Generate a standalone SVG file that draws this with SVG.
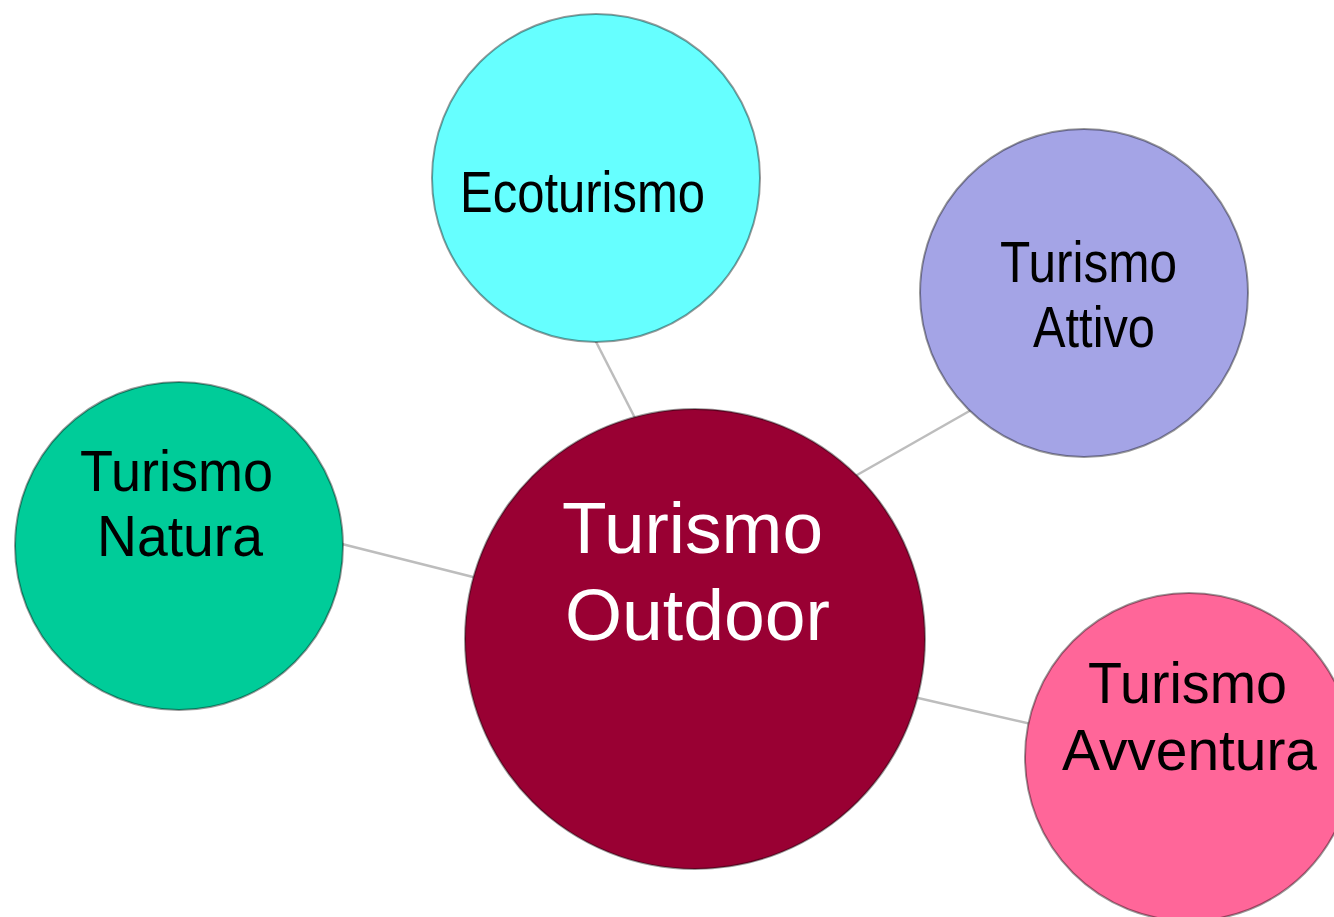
<svg xmlns="http://www.w3.org/2000/svg" width="1334" height="917" viewBox="0 0 1334 917">
<style>
.edge{stroke:#bdbdbd;stroke-width:2.5;fill:none}
.node{stroke:#000;stroke-opacity:0.4;stroke-width:2}
.lbl{font-family:"Liberation Sans",Arial,sans-serif;font-size:57px;fill:#000}
.main{font-family:"Liberation Sans",Arial,sans-serif;font-size:72px;fill:#fff}
</style>
<rect width="1334" height="917" fill="#fff"/>
<g id="connectors">
<line class="edge" x1="590" y1="330" x2="636" y2="420"/>
<line class="edge" x1="850" y1="479" x2="980" y2="405"/>
<line class="edge" x1="330" y1="541" x2="485" y2="580"/>
<line class="edge" x1="905" y1="695" x2="1040" y2="726"/>
</g>
<g id="ecoturismo">
<circle class="node" cx="596" cy="178" r="164" fill="#66ffff"/>
<text class="lbl" x="460" y="212" textLength="245" lengthAdjust="spacingAndGlyphs">Ecoturismo</text>
</g>
<g id="turismo-attivo">
<circle class="node" cx="1084" cy="293" r="164" fill="#a4a4e6"/>
<text class="lbl" x="1000" y="282" textLength="177" lengthAdjust="spacingAndGlyphs">Turismo</text>
<text class="lbl" x="1033" y="347" textLength="122" lengthAdjust="spacingAndGlyphs">Attivo</text>
</g>
<g id="turismo-natura">
<circle class="node" cx="179" cy="546" r="164" fill="#00cc99"/>
<text class="lbl" x="80" y="491" textLength="193" lengthAdjust="spacingAndGlyphs">Turismo</text>
<text class="lbl" x="97" y="556" textLength="166" lengthAdjust="spacingAndGlyphs">Natura</text>
</g>
<g id="turismo-avventura">
<circle class="node" cx="1189" cy="757" r="164" fill="#ff6699"/>
<text class="lbl" x="1088" y="703" textLength="199" lengthAdjust="spacingAndGlyphs">Turismo</text>
<text class="lbl" x="1062" y="770" textLength="255" lengthAdjust="spacingAndGlyphs">Avventura</text>
</g>
<g id="turismo-outdoor">
<circle class="node" cx="695" cy="639" r="230" fill="#990033"/>
<text class="main" x="562" y="553" textLength="261" lengthAdjust="spacingAndGlyphs">Turismo</text>
<text class="main" x="565" y="640" textLength="265" lengthAdjust="spacingAndGlyphs">Outdoor</text>
</g>
</svg>
